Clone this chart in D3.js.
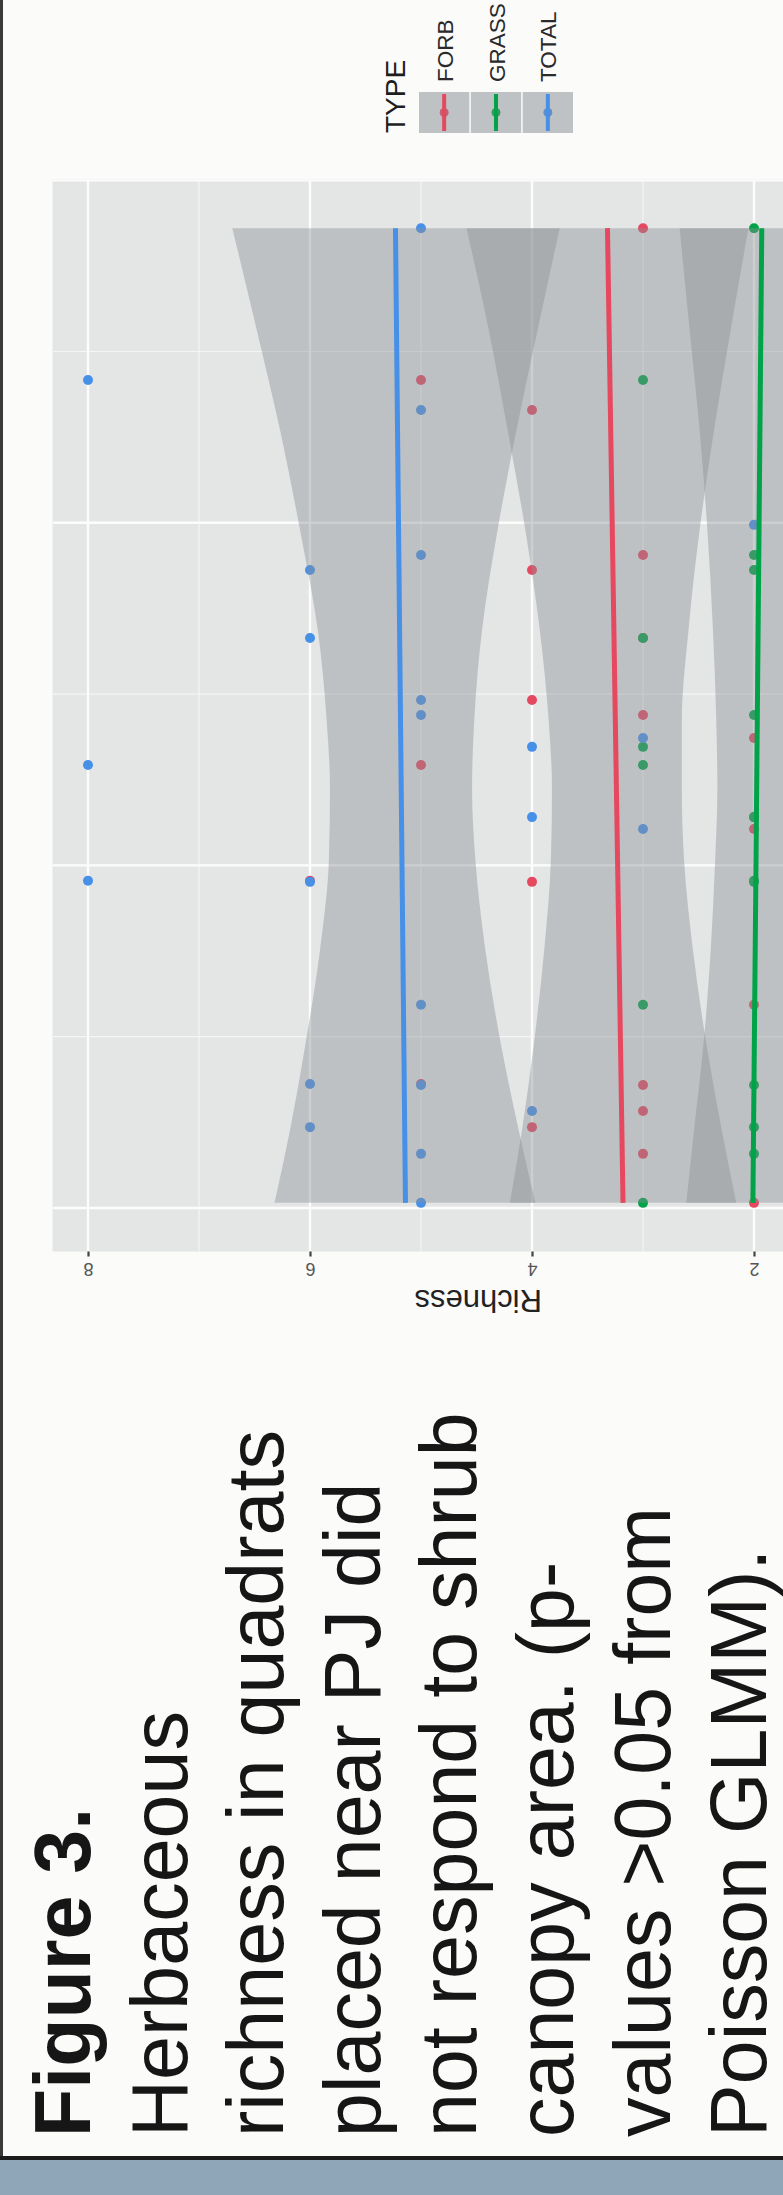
<!DOCTYPE html>
<html>
<head>
<meta charset="utf-8">
<script src="https://cdn.jsdelivr.net/npm/d3@7"></script>
<style>
  html, body { margin: 0; padding: 0; background: #fbfbfa; }
  svg { display: block; }
  text { font-family: "Liberation Sans", Arial, Helvetica, sans-serif; }
</style>
</head>
<body>
<script>
// ---------------- DATA ----------------
const types = ["FORB", "GRASS", "TOTAL"];
const typeColors = ["#e5485f", "#00a347", "#4690e8"];

// quadrat shrub canopy area (plot x variable, drawn vertically here)
const canopyArea = [28.60, 24.17, 23.29, 19.94, 19.06, 18.62, 16.64, 14.83, 14.39, 13.72, 13.46, 12.93,
                    11.41, 11.06, 9.52, 9.55, 5.93, 3.59, 3.62, 2.83, 2.36, 1.58, 0.15];
const forbRich  = [3, 5, 4, 1, 3, 4, 3, 4, 3, 2, 1, 5, 2, 2, 4, 6, 2, 3, 5, 3, 4, 3, 2];
const grassRich = [2, 3, 1, 1, 2, 2, 3, 1, 2, 1, 3, 3, 2, 1, 2, 2, 3, 2, 1, 1, 2, 2, 3];
const totalRich = [5, 8, 5, 2, 5, 6, 6, 5, 5, 3, 4, 8, 4, 3, 6, 8, 5, 5, 6, 4, 6, 5, 5];

// fitted GLMM lines (richness at the two ends of the canopy-area range)
const fitArea  = [28.60, 0.15];
const forbFit  = [3.32, 3.18];
const grassFit = [1.93, 2.01];
const totalFit = [5.23, 5.14];

// confidence ribbons
const ribbonArea = [28.60, 25.63, 22.71, 19.79, 16.87, 14.24, 12.23, 10.16, 7.53, 4.61, 2.28, 0.15];
const forbLo  = [2.05, 2.21, 2.36, 2.49, 2.59, 2.65, 2.65, 2.63, 2.55, 2.42, 2.29, 2.16];
const forbHi  = [4.59, 4.39, 4.22, 4.06, 3.93, 3.85, 3.82, 3.83, 3.89, 3.99, 4.09, 4.20];
const grassLo = [1.19, 1.30, 1.40, 1.49, 1.56, 1.60, 1.61, 1.61, 1.58, 1.53, 1.47, 1.41];
const grassHi = [2.67, 2.58, 2.49, 2.42, 2.37, 2.34, 2.33, 2.35, 2.39, 2.46, 2.54, 2.61];
const totalLo = [3.75, 3.95, 4.14, 4.31, 4.45, 4.52, 4.54, 4.51, 4.42, 4.27, 4.12, 3.97];
const totalHi = [6.70, 6.48, 6.27, 6.09, 5.93, 5.85, 5.82, 5.83, 5.91, 6.05, 6.18, 6.32];

// axis
const richTicks = [8, 6, 4, 2];
const richMinor = [7, 5, 3, 1];
const areaMajor = [0, 10, 20, 30];
const areaMinor = [5, 15, 25];
const richTitle = "Richness";
const legendTitle = "TYPE";

const captionLines = [
  "Figure 3.",
  "Herbaceous",
  "richness in quadrats",
  "placed near PJ did",
  "not respond to shrub",
  "canopy area. (p-",
  "values >0.05 from",
  "Poisson GLMM)."
];

// ---------------- DRAWING ----------------
const W = 783, H = 2195;
const svg = d3.select("body").append("svg").attr("width", W).attr("height", H);

svg.append("rect").attr("width", W).attr("height", H).attr("fill", "#fbfbfa");

// richness runs right-to-left, canopy area runs bottom-to-top (rotated figure)
const x = d3.scaleLinear().domain([8, 2]).range([88, 754]);
const y = d3.scaleLinear().domain([0, 30]).range([1208, 180.2]);

const pxL = x(8.32), pxR = x(0.65), pyT = y(30.02), pyB = y(-1.27);

const defs = svg.append("defs");
defs.append("clipPath").attr("id", "panelClip")
  .append("rect").attr("x", pxL).attr("y", pyT).attr("width", pxR - pxL).attr("height", pyB - pyT);

svg.append("rect").attr("x", pxL).attr("y", pyT).attr("width", pxR - pxL).attr("height", pyB - pyT)
  .attr("fill", "#e4e6e6");

const panel = svg.append("g").attr("clip-path", "url(#panelClip)");

// grid
panel.selectAll(".vminor").data(richMinor).join("line")
  .attr("x1", d => x(d)).attr("x2", d => x(d)).attr("y1", pyT).attr("y2", pyB)
  .attr("stroke", "#f4f5f4").attr("stroke-width", 1.2);
panel.selectAll(".hminor").data(areaMinor).join("line")
  .attr("y1", d => y(d)).attr("y2", d => y(d)).attr("x1", pxL).attr("x2", pxR)
  .attr("stroke", "#f4f5f4").attr("stroke-width", 1.2);
panel.selectAll(".vmajor").data(richTicks.concat([0])).join("line")
  .attr("x1", d => x(d)).attr("x2", d => x(d)).attr("y1", pyT).attr("y2", pyB)
  .attr("stroke", "#fcfcfc").attr("stroke-width", 2.4);
panel.selectAll(".hmajor").data(areaMajor).join("line")
  .attr("y1", d => y(d)).attr("y2", d => y(d)).attr("x1", pxL).attr("x2", pxR)
  .attr("stroke", "#fcfcfc").attr("stroke-width", 2.4);

// points (drawn before ribbons, as in the original)
const richBy = [forbRich, grassRich, totalRich];
types.forEach((t, k) => {
  panel.append("g").selectAll("circle").data(canopyArea.map((a, i) => ({ a, r: richBy[k][i] })))
    .join("circle")
    .attr("cx", d => x(d.r)).attr("cy", d => y(d.a)).attr("r", 5)
    .attr("fill", typeColors[k]);
});

// ribbons
const loBy = [forbLo, grassLo, totalLo];
const hiBy = [forbHi, grassHi, totalHi];
const ribbon = d3.area()
  .y(d => y(d.a)).x0(d => x(d.lo)).x1(d => x(d.hi))
  .curve(d3.curveMonotoneY);
types.forEach((t, k) => {
  const rows = ribbonArea.map((a, i) => ({ a, lo: loBy[k][i], hi: hiBy[k][i] }));
  panel.append("path").datum(rows).attr("d", ribbon)
    .attr("fill", "#8a8f94").attr("fill-opacity", 0.42);
});

// fitted lines
const fitBy = [forbFit, grassFit, totalFit];
const line = d3.line().x(d => x(d.r)).y(d => y(d.a));
types.forEach((t, k) => {
  const rows = fitArea.map((a, i) => ({ a, r: fitBy[k][i] }));
  panel.append("path").datum(rows).attr("d", line)
    .attr("fill", "none").attr("stroke", typeColors[k]).attr("stroke-width", 5);
});

// Richness axis (at the bottom of the rotated panel)
const axisG = svg.append("g").attr("transform", `translate(0,${pyB})`)
  .call(d3.axisBottom(x).tickValues(richTicks).tickSize(5).tickFormat(d3.format("d")));
axisG.select(".domain").remove();
axisG.selectAll(".tick line").attr("stroke", "#444").attr("stroke-width", 2.2);
axisG.selectAll(".tick text")
  .attr("y", 0).attr("dy", 0)
  .attr("transform", "translate(0,11) rotate(180)")
  .attr("text-anchor", "middle")
  .attr("font-size", 18).attr("fill", "#555");

svg.append("text")
  .attr("transform", `translate(${(pxL + pxR) / 2},1290) rotate(180)`)
  .attr("text-anchor", "middle").attr("font-size", 31).attr("fill", "#222")
  .text(richTitle);

// Legend
svg.append("text").attr("transform", "translate(405,133) rotate(-90)")
  .attr("font-size", 28).attr("fill", "#1e1e1e").text(legendTitle);
const keyX = d3.scaleBand().domain(types).range([419, 573]).paddingInner(0.03);
types.forEach((t, k) => {
  const kx = keyX(t), kw = keyX.bandwidth(), cx = kx + kw / 2;
  svg.append("rect").attr("x", kx).attr("y", 92).attr("width", kw).attr("height", 41).attr("fill", "#e6e7e7");
  svg.append("circle").attr("cx", cx).attr("cy", 112.5).attr("r", 4.5).attr("fill", typeColors[k]);
  svg.append("rect").attr("x", kx).attr("y", 92).attr("width", kw).attr("height", 41)
    .attr("fill", "#8a8f94").attr("fill-opacity", 0.42);
  svg.append("line").attr("x1", cx).attr("x2", cx).attr("y1", 94).attr("y2", 131)
    .attr("stroke", typeColors[k]).attr("stroke-width", 4);
  svg.append("text").attr("transform", `translate(${cx + 8.5},82) rotate(-90)`)
    .attr("font-size", 22.5).attr("fill", "#2a2a2a").text(t);
});

// Caption (rotated, reading bottom to top)
captionLines.forEach((s, i) => {
  svg.append("text")
    .attr("transform", `translate(${90 + 96.6 * i},2137) rotate(-90)`)
    .attr("font-size", 79)
    .attr("font-weight", i === 0 ? "bold" : "normal")
    .attr("fill", "#161616")
    .text(s);
});

// frame pieces of the photographed slide
svg.append("rect").attr("x", 0).attr("y", 0).attr("width", 3).attr("height", 2158).attr("fill", "#3a3a3a");
svg.append("rect").attr("x", 0).attr("y", 2156).attr("width", W).attr("height", 4).attr("fill", "#1c1c1c");
svg.append("rect").attr("x", 0).attr("y", 2160).attr("width", W).attr("height", 35).attr("fill", "#8fa5b8");
</script>
</body>
</html>
